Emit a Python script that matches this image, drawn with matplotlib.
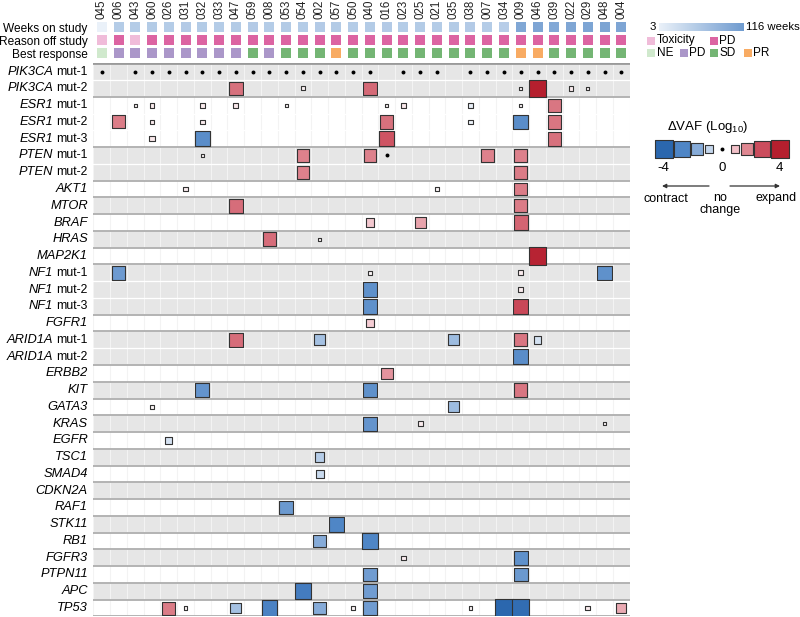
import numpy as np
import matplotlib
matplotlib.use("Agg")
import matplotlib.pyplot as plt
from matplotlib.colors import LinearSegmentedColormap

plt.rcParams['font.family'] = ['Liberation Sans', 'DejaVu Sans']
plt.rcParams['mathtext.fontset'] = 'custom'
plt.rcParams['mathtext.rm'] = 'Liberation Sans'

# patients (columns)
patients = ['045', '006', '043', '060', '026', '031', '032', '033', '047', '059',
            '008', '053', '054', '002', '057', '050', '040', '016', '023', '025',
            '021', '035', '038', '007', '034', '009', '046', '039', '022', '029',
            '048', '004']

# header tracks
weeks = [3, 52, 52, 53, 52, 54, 53, 52, 53, 54,
         52, 53, 52, 54, 53, 52, 53, 54, 52, 53,
         52, 53, 54, 52, 50, 100, 102, 98, 101, 103,
         104, 102]
reason_off = ['Toxicity', 'PD', 'Toxicity', 'PD', 'PD', 'PD', 'PD', 'PD', 'PD', 'PD',
              'PD', 'PD', 'PD', 'PD', 'PD', 'PD', 'PD', 'PD', 'PD', 'PD',
              'PD', 'PD', 'PD', 'PD', 'PD', 'PD', 'PD', 'PD', 'PD', 'PD',
              'PD', 'PD']
best_response = ['NE', 'PD', 'PD', 'PD', 'PD', 'PD', 'PD', 'PD', 'PD', 'SD',
                 'PD', 'SD', 'SD', 'SD', 'PR', 'SD', 'SD', 'SD', 'SD', 'SD',
                 'SD', 'SD', 'SD', 'SD', 'SD', 'PR', 'PR', 'SD', 'SD', 'SD',
                 'SD', 'SD']

# mutation rows
genes = ['PIK3CA', 'PIK3CA', 'ESR1', 'ESR1', 'ESR1', 'PTEN', 'PTEN', 'AKT1', 'MTOR',
         'BRAF', 'HRAS', 'MAP2K1', 'NF1', 'NF1', 'NF1', 'FGFR1', 'ARID1A', 'ARID1A',
         'ERBB2', 'KIT', 'GATA3', 'KRAS', 'EGFR', 'TSC1', 'SMAD4', 'CDKN2A', 'RAF1',
         'STK11', 'RB1', 'FGFR3', 'PTPN11', 'APC', 'TP53']
muts = ['mut-1', 'mut-2', 'mut-1', 'mut-2', 'mut-3', 'mut-1', 'mut-2', '', '',
        '', '', '', 'mut-1', 'mut-2', 'mut-3', '', 'mut-1', 'mut-2',
        '', '', '', '', '', '', '', '', '',
        '', '', '', '', '', '']

# delta VAF (log10) per cell: row index, patient, value
cell_row = (
    [0] * 29 +
    [1] * 7 +
    [2] * 10 +
    [3] * 7 +
    [4] * 4 +
    [5] * 6 +
    [6] * 2 +
    [7] * 3 +
    [8] * 2 +
    [9] * 3 +
    [10] * 2 +
    [11] * 1 +
    [12] * 4 +
    [13] * 2 +
    [14] * 2 +
    [15] * 1 +
    [16] * 5 +
    [17] * 1 +
    [18] * 1 +
    [19] * 3 +
    [20] * 2 +
    [21] * 3 +
    [22] * 1 +
    [23] * 1 +
    [24] * 1 +
    [26] * 1 +
    [27] * 1 +
    [28] * 2 +
    [29] * 2 +
    [30] * 2 +
    [31] * 2 +
    [32] * 12
)
cell_patient = [
    # PIK3CA mut-1
    '045', '043', '060', '026', '031', '032', '033', '047', '059', '008', '053', '054',
    '002', '057', '050', '040', '023', '025', '021', '038', '007', '034', '009', '046',
    '039', '022', '029', '048', '004',
    # PIK3CA mut-2
    '047', '054', '040', '009', '046', '022', '029',
    # ESR1 mut-1
    '043', '060', '032', '047', '053', '016', '023', '038', '009', '039',
    # ESR1 mut-2
    '006', '060', '032', '016', '038', '009', '039',
    # ESR1 mut-3
    '060', '032', '016', '039',
    # PTEN mut-1
    '032', '054', '040', '016', '007', '009',
    # PTEN mut-2
    '054', '009',
    # AKT1
    '031', '021', '009',
    # MTOR
    '047', '009',
    # BRAF
    '040', '025', '009',
    # HRAS
    '008', '002',
    # MAP2K1
    '046',
    # NF1 mut-1
    '006', '040', '009', '048',
    # NF1 mut-2
    '040', '009',
    # NF1 mut-3
    '040', '009',
    # FGFR1
    '040',
    # ARID1A mut-1
    '047', '002', '035', '009', '046',
    # ARID1A mut-2
    '009',
    # ERBB2
    '016',
    # KIT
    '032', '040', '009',
    # GATA3
    '060', '035',
    # KRAS
    '040', '025', '048',
    # EGFR
    '026',
    # TSC1
    '002',
    # SMAD4
    '002',
    # RAF1
    '053',
    # STK11
    '057',
    # RB1
    '002', '040',
    # FGFR3
    '023', '009',
    # PTPN11
    '040', '009',
    # APC
    '054', '040',
    # TP53
    '026', '031', '047', '008', '002', '050', '040', '038', '034', '009', '029', '004',
]
cell_dvaf = [
    # PIK3CA mut-1 (no change)
    0, 0, 0, 0, 0, 0, 0, 0, 0, 0, 0, 0,
    0, 0, 0, 0, 0, 0, 0, 0, 0, 0, 0, 0,
    0, 0, 0, 0, 0,
    2.4, 0.2, 2.5, 0.15, 4.0, 0.3, 0.15,
    0.15, 0.3, 0.3, 0.35, 0.1, 0.15, 0.35, -0.35, 0.15, 2.3,
    2.2, 0.3, 0.3, 2.4, -0.3, -2.8, 2.3,
    0.35, -2.8, 2.9, 2.4,
    0.15, 2.1, 2.1, 0, 2.1, 2.1,
    2.1, 2.2,
    0.3, 0.15, 2.2,
    2.45, 2.2,
    0.9, 1.5, 2.6,
    2.45, 0.15,
    3.9,
    -2.45, 0.15, 0.3, -2.7,
    -2.7, 0.3,
    -2.7, 3.1,
    0.8,
    2.45, -1.5, -1.6, 2.3, -0.75,
    -2.8,
    1.8,
    -2.6, -2.7, 2.3,
    0.15, -1.6,
    -2.6, 0.3, 0.15,
    -0.7,
    -1.2,
    -0.9,
    -2.5,
    -3.0,
    -2.0, -3.0,
    0.25, -2.7,
    -2.4, -2.5,
    -3.3, -2.4,
    2.2, 0.15, -1.5, -3.1, -2.0, 0.15, -2.4, 0.15, -4.0, -3.8, 0.3, 1.4,
]

# legend keys
dvaf_levels = [-4, -3, -2, -1, 0, 1, 2, 3, 4]
dvaf_colors = ['#2b67ae', '#4f86c6', '#86abd8', '#c3d6ec', '#ffffff',
               '#f2c1c9', '#df8892', '#cc4e5e', '#b51f2e']
reason_colors = {'Toxicity': '#f0bcd9', 'PD': '#dc64a2'}
response_colors = {'NE': '#d0e9cd', 'PD': '#ab97c9', 'SD': '#74b574', 'PR': '#f8ab63'}

W, H = 800, 617


def fig_rect(x0, y0, x1, y1):
    return [x0 / W, 1 - y1 / H, (x1 - x0) / W, (y1 - y0) / H]


def px2pt(p):
    return p * 72.0 / 100.0


dvaf_cmap = LinearSegmentedColormap.from_list(
    'dvaf', list(zip([(l + 4) / 8 for l in dvaf_levels], dvaf_colors)))
weeks_cmap = LinearSegmentedColormap.from_list('weeks', ['#eaf1f9', '#6f9bcf'])


def square_side(v):
    return 17.5 * np.sqrt(abs(v) / 4.0)


fig = plt.figure(figsize=(8, 6.17), dpi=100)
renderer = fig.canvas.get_renderer()

n_cols = len(patients)
n_rows = len(genes)
col_left, col_right = 93.4, 629.7

# ---- header
ax_h = fig.add_axes(fig_rect(col_left, 20.8, col_right, 59.8))
ax_h.set_xlim(-0.5, n_cols - 0.5)
ax_h.set_ylim(2.5, -0.5)
xs = np.arange(n_cols)
hs = px2pt(10) ** 2
wk = (np.array(weeks) - 3) / (116 - 3)
ax_h.scatter(xs, np.zeros(n_cols), marker='s', s=hs, c=weeks_cmap(wk), linewidths=0)
ax_h.scatter(xs, np.ones(n_cols), marker='s', s=hs,
             c=[reason_colors[r] for r in reason_off], linewidths=0)
ax_h.scatter(xs, np.full(n_cols, 2), marker='s', s=hs,
             c=[response_colors[r] for r in best_response], linewidths=0)
ax_h.xaxis.tick_top()
ax_h.set_xticks(xs)
ax_h.set_xticklabels(patients, rotation=90, fontsize=8.3, color='#222222')
ax_h.set_yticks([0, 1, 2])
ax_h.set_yticklabels(['Weeks on study', 'Reason off study', 'Best response'], fontsize=8.6)
ax_h.tick_params(length=0, pad=4)
ax_h.tick_params(axis='x', pad=1.0)
for s in ax_h.spines.values():
    s.set_visible(False)

# ---- main grid
ax = fig.add_axes(fig_rect(col_left, 63.3, col_right, 616.4))
ax.set_xlim(-0.5, n_cols - 0.5)
ax.set_ylim(n_rows - 0.5, -0.5)

group_idx = []
g = 0
for r in range(n_rows):
    if r > 0 and genes[r] != genes[r - 1]:
        g += 1
    group_idx.append(g)
for r in range(n_rows):
    ax.axhspan(r - 0.5, r + 0.5, color='#e6e6e6' if group_idx[r] % 2 == 0 else 'white',
               lw=0, zorder=0)
ax.vlines(np.arange(-0.5, n_cols), -0.5, n_rows - 0.5, color='#f3f3f3', lw=0.8, zorder=1)
for r in range(n_rows - 1):
    if genes[r] != genes[r + 1]:
        ax.axhline(r + 0.5, color='#b3b3b3', lw=1.4, zorder=1)
    else:
        ax.axhline(r + 0.5, color='white', lw=0.9, zorder=1)
ax.axhline(-0.5, color='#9a9a9a', lw=2, zorder=2)
ax.axhline(n_rows - 0.5, color='#b3b3b3', lw=1.4, zorder=1)

cx = np.array([patients.index(p) for p in cell_patient])
cy = np.array(cell_row)
cv = np.array(cell_dvaf, dtype=float)
zero = cv == 0
nz = ~zero
order = np.argsort(-np.abs(cv[nz]))
ax.scatter(cx[nz][order], cy[nz][order], marker='s',
           s=[px2pt(square_side(v)) ** 2 for v in cv[nz][order]],
           c=dvaf_cmap((cv[nz][order] + 4) / 8), edgecolors='#333333', linewidths=0.8,
           zorder=3)
ax.scatter(cx[zero], cy[zero], marker='o', s=8, c='black', linewidths=0, zorder=3)

# row labels: italic gene name + plain mutation tag
ax.set_yticks([])
ax.set_xticks([])
lab_fs = 9.3
for r, (gname, m) in enumerate(zip(genes, muts)):
    x_off = -5.5
    if m:
        t = ax.annotate(m, xy=(0, r), xycoords=('axes fraction', 'data'),
                        xytext=(x_off, 0), textcoords='offset pixels',
                        ha='right', va='center', fontsize=8.8)
        x_off -= t.get_window_extent(renderer).width + 3.5
    ax.annotate(gname, xy=(0, r), xycoords=('axes fraction', 'data'),
                xytext=(x_off, 0), textcoords='offset pixels',
                ha='right', va='center', fontsize=lab_fs, style='italic')
for s in ax.spines.values():
    s.set_visible(False)

# ---- weeks colorbar
ax_cb = fig.add_axes(fig_rect(659, 23.3, 743.3, 30.7))
ax_cb.imshow(np.linspace(0, 1, 256)[None, :], cmap=weeks_cmap, aspect='auto')
ax_cb.axis('off')

# ---- right legends
ax_l = fig.add_axes(fig_rect(636, 0, 800, 230))
ax_l.set_xlim(636, 800)
ax_l.set_ylim(230, 0)
ax_l.axis('off')
ax_l.text(655.5, 27.5, '3', ha='right', va='center', fontsize=8.2)
ax_l.text(745.5, 27.5, '116 weeks', ha='left', va='center', fontsize=8.2)

ls = px2pt(8.3) ** 2
items_top = [('Toxicity', reason_colors['Toxicity'], 651), ('PD', reason_colors['PD'], 714)]
for name, col, x in items_top:
    ax_l.scatter([x], [40.5], marker='s', s=ls, c=col, linewidths=0)
    ax_l.text(x + 5.5, 40.5, name, ha='left', va='center', fontsize=8.5)
items_bot = [('NE', response_colors['NE'], 651), ('PD', response_colors['PD'], 684),
             ('SD', response_colors['SD'], 714), ('PR', response_colors['PR'], 747.5)]
for name, col, x in items_bot:
    ax_l.scatter([x], [53], marker='s', s=ls, c=col, linewidths=0)
    ax_l.text(x + 5.5, 53, name, ha='left', va='center', fontsize=8.5)

# dVAF size/colour key, squares packed side by side
ax_l.text(708, 127, r'$\Delta$VAF (Log$_{10}$)', ha='center', va='center', fontsize=9.5)
x = 655.0
key_x = []
for lv in dvaf_levels:
    w = square_side(lv) if lv != 0 else 3
    gap = 7 if lv in (0, 1) else 1.5
    if key_x:
        x += gap
    key_x.append(x + w / 2)
    x += w
for lv, kx in zip(dvaf_levels, key_x):
    if lv == 0:
        ax_l.scatter([kx], [149], marker='o', s=8, c='black', linewidths=0)
    else:
        ax_l.scatter([kx], [149], marker='s', s=px2pt(square_side(lv)) ** 2,
                     c=[dvaf_cmap((lv + 4) / 8)], edgecolors='#333333', linewidths=0.8)
ax_l.text(key_x[0], 168, '-4', ha='center', va='center', fontsize=9.5)
ax_l.text(key_x[4], 168, '0', ha='center', va='center', fontsize=9.5)
ax_l.text(key_x[-1], 168, '4', ha='center', va='center', fontsize=9.5)
ax_l.annotate('', xy=(662, 186), xytext=(709, 186),
              arrowprops=dict(arrowstyle='-|>', color='#333333', lw=0.9,
                              mutation_scale=6, shrinkA=0, shrinkB=0))
ax_l.annotate('', xy=(780, 186), xytext=(730, 186),
              arrowprops=dict(arrowstyle='-|>', color='#333333', lw=0.9,
                              mutation_scale=6, shrinkA=0, shrinkB=0))
ax_l.text(666, 198.5, 'contract', ha='center', va='center', fontsize=9)
ax_l.text(720, 204, 'no\nchange', ha='center', va='center', fontsize=9, linespacing=0.95)
ax_l.text(776, 198.5, 'expand', ha='center', va='center', fontsize=9)

fig.savefig('out.png', dpi=100)
